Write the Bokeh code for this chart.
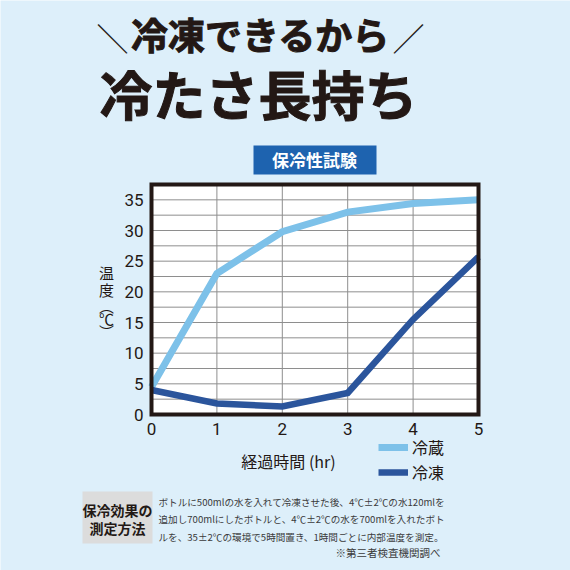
import numpy as np
from bokeh.plotting import figure
from bokeh.models import Range1d, Label, BoxAnnotation, Legend, LegendItem
from bokeh.core.properties import value
from bokeh.embed import file_html
from bokeh.resources import INLINE

# ---- data ----
hours = [0, 1, 2, 3, 4, 5]
fridge = [4.5, 23.0, 29.8, 33.0, 34.4, 35.0]     # 冷蔵
frozen = [4.0, 1.8, 1.3, 3.5, 15.5, 25.7]        # 冷凍
series_names = ["冷蔵", "冷凍"]
y_ticks = [0, 5, 10, 15, 20, 25, 30, 35]
x_ticks = [0, 1, 2, 3, 4, 5]
y_tick_labels = [str(v) for v in y_ticks]
x_tick_labels = [str(v) for v in x_ticks]

BG = "#ddeffa"
INK = "#231815"
LIGHT = "#7dc1e9"
DARK = "#2b559c"
JP = "Noto Sans CJK JP"

# plot-area geometry in canvas pixels; the frame spans the whole canvas
FX0, FX1, FY0, FY1 = 151, 478, 414, 184
XMAX, YMAX = 5.0, 37.5

def dx(px):
    return (px - FX0) / (FX1 - FX0) * XMAX

def dy(py):
    return (FY0 - py) / (FY0 - FY1) * YMAX

p = figure(width=570, height=570, output_backend="svg", toolbar_location=None,
           x_range=Range1d(dx(0), dx(570)), y_range=Range1d(dy(570), dy(0)),
           x_axis_type=None, y_axis_type=None, min_border=0)
p.background_fill_color = BG
p.border_fill_color = BG
p.outline_line_color = None
p.grid.visible = False

# plot area
p.quad(left=[0], right=[XMAX], bottom=[0], top=[YMAX], fill_color="white", line_color=None)
ygrid = np.arange(2.5, YMAX, 2.5)
p.segment(x0=x_ticks[1:-1], y0=0, x1=x_ticks[1:-1], y1=YMAX, line_color="#8e8e8e", line_width=1)
p.segment(x0=0, y0=ygrid, x1=XMAX, y1=ygrid, line_color="#8e8e8e", line_width=1)

r1 = p.line(hours, fridge, line_color=LIGHT, line_width=7, line_join="miter")
r2 = p.line(hours, frozen, line_color=DARK, line_width=6.5, line_join="miter")

p.quad(left=[0], right=[XMAX], bottom=[0], top=[YMAX], fill_color=None,
       line_color=INK, line_width=4, line_join="miter")

# tick labels
p.text(x=dx(143), y=y_ticks, text=y_tick_labels, text_align="right", text_baseline="middle",
       text_font=value("Roboto"), text_font_size="17px", text_color=INK)
p.text(x=x_ticks, y=dy(428), text=x_tick_labels, text_align="center", text_baseline="middle",
       text_font=value("Roboto"), text_font_size="17px", text_color=INK)

legend = Legend(items=[LegendItem(label=series_names[0], renderers=[r1]),
                       LegendItem(label=series_names[1], renderers=[r2])],
                location=(378, 570 - 484), orientation="vertical",
                background_fill_alpha=0, border_line_color=None,
                padding=0, margin=0, spacing=1,
                glyph_width=30, glyph_height=20, label_height=20,
                label_standoff=4,
                label_text_font=JP, label_text_font_size="16px", label_text_color=INK)
p.add_layout(legend, "center")

def label(px, py, text, size, bold=False, color=INK, align="center", font=JP, heavy=False):
    kw = {}
    if heavy:
        kw = dict(text_outline_color=color)
    p.add_layout(Label(x=dx(px), y=dy(py), text=text, text_font=font,
                       text_font_size=f"{size}px",
                       text_font_style="bold" if bold else "normal",
                       text_color=color, text_align=align, text_baseline="middle", **kw))

# headline
label(112, 36, "＼", 32)
label(408, 36, "／", 32)
label(260, 33, "冷凍できるから", 37, bold=True, heavy=True)
label(258, 92, "冷たさ長持ち", 53, bold=True, heavy=True)

# badge
p.add_layout(BoxAnnotation(left=dx(253), right=dx(376), top=dy(145), bottom=dy(174),
                           fill_color="#1e63af", fill_alpha=1, line_color=None))
label(314, 159, "保冷性試験", 17, bold=True, color="white")

# y axis label (vertical)
for py, ch in [(272, "温"), (289, "度"), (305, "︵"), (318, "℃"), (331, "︶")]:
    label(106, py, ch, 15)

# x axis label
label(288, 460, "経過時間 (hr)", 16)

# footer
p.add_layout(BoxAnnotation(left=dx(82), right=dx(152), top=dy(491), bottom=dy(543),
                           fill_color="#dcdcdc", fill_alpha=1, line_color=None))
label(117, 509, "保冷効果の", 14, bold=True)
label(117, 527, "測定方法", 14, bold=True)
foot = ["ボトルに500mlの水を入れて冷凍させた後、4℃±2℃の水120mlを",
        "追加し700mlにしたボトルと、4℃±2℃の水を700mlを入れたボト",
        "ルを、35±2℃の環境で5時間置き、1時間ごとに内部温度を測定。"]
for i, t in enumerate(foot):
    label(158, 501 + 17.5 * i, t, 9.6, color="#3a3a3a", align="left")
label(440, 552, "※第三者検査機関調べ", 10.5, color="#3a3a3a", align="right")

open("out.html", "w").write(file_html(p, INLINE))
